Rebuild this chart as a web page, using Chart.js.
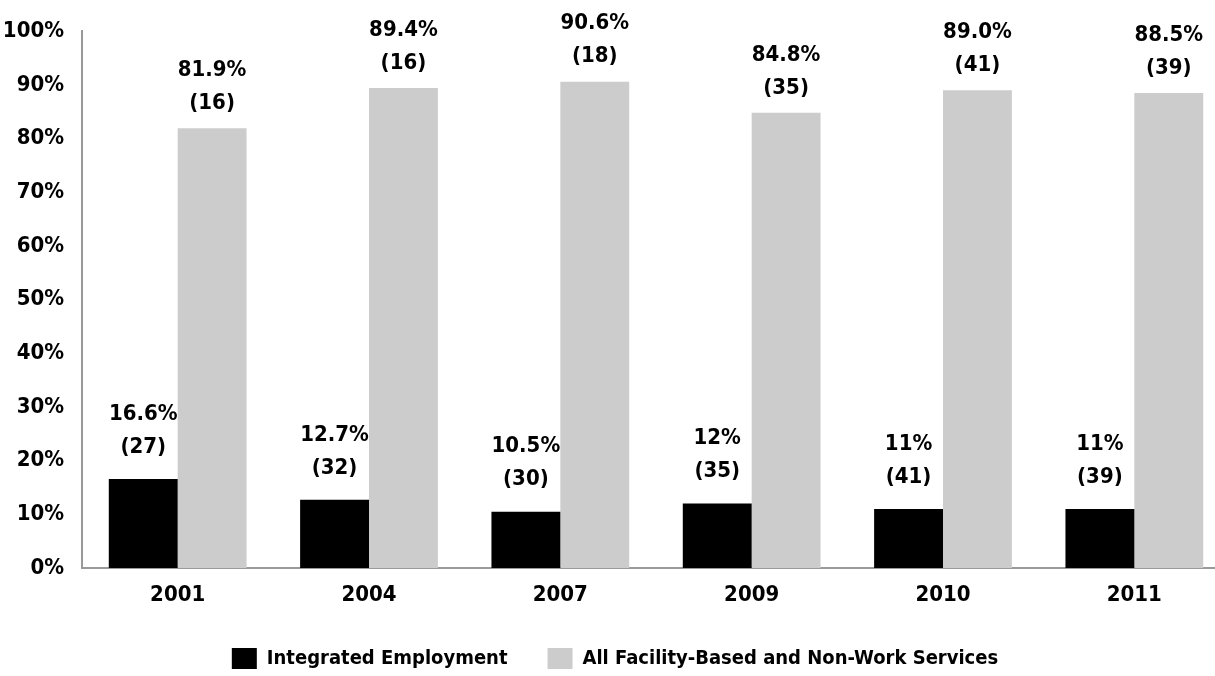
<!DOCTYPE html>
<html>
<head>
<meta charset="utf-8">
<script src="https://cdn.jsdelivr.net/npm/chart.js@4"></script>
<style>
    html, body { margin: 0; padding: 0; background: #fff; overflow: hidden; }
    #wrap { width: 1215px; height: 676px; overflow: hidden; }
</style>
</head>
<body>
<div id="wrap"><canvas id="chart1" width="1230" height="676"></canvas></div>
<script>
// chart data
var years = ["2001", "2004", "2007", "2009", "2010", "2011"];
var integrated = [16.6, 12.7, 10.5, 12, 11, 11];
var integratedN = [27, 32, 30, 35, 41, 39];
var facility = [81.9, 89.4, 90.6, 84.8, 89.0, 88.5];
var facilityN = [16, 16, 18, 35, 41, 39];
var yTicks = [0, 10, 20, 30, 40, 50, 60, 70, 80, 90, 100];

var fontFamily = "'Liberation Sans Narrow', 'DejaVu Sans Condensed', sans-serif";

// two-line labels above each bar: value% and (n)
var barLabels = {
    id: 'barLabels',
    afterDatasetsDraw: function(chart) {
        var ctx = chart.ctx;
        ctx.save();
        ctx.font = 'bold 22px ' + fontFamily;
        ctx.fillStyle = '#000';
        ctx.textAlign = 'center';
        ctx.textBaseline = 'middle';
        chart.data.datasets.forEach(function(ds, i) {
            var meta = chart.getDatasetMeta(i);
            meta.data.forEach(function(bar, j) {
                var v = ds.data[j];
                var txt = ds.fixed ? v.toFixed(1) + '%' : v + '%';
                ctx.fillText(txt, bar.x, bar.y - ds.labelGap - 33);
                ctx.fillText('(' + ds.counts[j] + ')', bar.x, bar.y - ds.labelGap);
            });
        });
        ctx.restore();
    }
};

var chartEl = document.getElementById('chart1');
new Chart(chartEl, {
    type: 'bar',
    data: {
        labels: years,
        datasets: [{
            label: "Integrated Employment",
            backgroundColor: "#000000",
            data: integrated,
            counts: integratedN,
            fixed: false,
            labelGap: 32
        }, {
            label: "All Facility-Based and Non-Work Services",
            backgroundColor: "#cccccc",
            data: facility,
            counts: facilityN,
            fixed: true,
            labelGap: 25
        }]
    },
    options: {
        responsive: false,
        devicePixelRatio: 1,
        animation: false,
        layout: {
            padding: { top: 19, left: 0, right: 0, bottom: -3 }
        },
        datasets: {
            bar: {
                categoryPercentage: 0.72,
                barPercentage: 1
            }
        },
        scales: {
            x: {
                grid: { display: false, drawTicks: false },
                border: { display: true, color: '#999999', width: 2 },
                ticks: {
                    color: '#000',
                    padding: 14,
                    font: { family: fontFamily, size: 22, weight: 'bold' }
                },
                afterFit: function(scale) { scale.height = 40; }
            },
            y: {
                min: 0,
                max: 100,
                afterBuildTicks: function(scale) {
                    scale.ticks = yTicks.map(function(v) { return { value: v }; });
                },
                grid: { display: false, drawTicks: false },
                border: { display: true, color: '#999999', width: 2 },
                ticks: {
                    color: '#000',
                    padding: 18,
                    font: { family: fontFamily, size: 22, weight: 'bold' },
                    callback: function(v) { return v + '%'; }
                },
                afterFit: function(scale) { scale.width = 82; }
            }
        },
        plugins: {
            legend: {
                display: true,
                position: 'bottom',
                labels: {
                    color: '#000',
                    boxWidth: 25,
                    boxHeight: 21,
                    padding: 40,
                    font: { family: fontFamily, size: 20, weight: 'bold' }
                }
            },
            tooltip: { enabled: false }
        }
    },
    plugins: [barLabels]
});
</script>
</body>
</html>
